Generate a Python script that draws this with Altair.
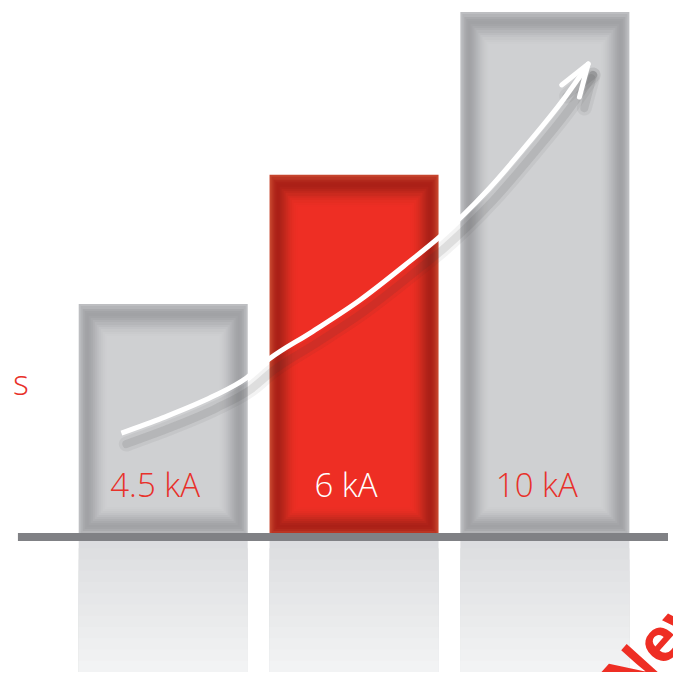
import altair as alt
import pandas as pd

# ---- data ----
categories = ["4.5 kA", "6 kA", "10 kA"]
bar_positions = [1, 2, 3]
bar_heights = [44.4, 69.0, 100.0]          # relative bar heights (10 kA = 100)
bar_kinds = ["grey", "red", "grey"]
label_colors = ["#e8312a", "#ffffff", "#e8312a"]

arrow_x = [0.781, 0.997, 1.256, 1.436, 1.555, 1.772, 2.030, 2.288, 2.453, 2.701, 2.917, 3.088, 3.217]
arrow_y = [19.8, 22.7, 26.7, 30.3, 33.9, 38.9, 45.1, 52.4, 57.3, 66.1, 75.2, 82.9, 89.5]
tip = (3.227, 90.1)
wings_x = [3.088, 3.181]
wings_y = [86.1, 83.8]

x_domain = [0.2129, 3.6452]
y_domain = [-25.71, 100.76]
baseline_start = 0.2387
label_y = 7.6
side_text = "s"
side_text_y = 27.0
new_text = "New"
new_x, new_y = 3.444, -32.0

bars = pd.DataFrame({"category": categories, "pos": bar_positions,
                     "height": bar_heights, "kind": bar_kinds,
                     "label_color": label_colors,
                     "zero": [0.0] * 3, "label_y": [label_y] * 3})
arrow = pd.DataFrame({"x": arrow_x, "y": arrow_y})
head = pd.DataFrame({"x": [tip[0]] * 2, "y": [tip[1]] * 2, "x2": wings_x, "y2": wings_y})
base = pd.DataFrame({"x": [baseline_start], "x2": [x_domain[1]], "y": [0.0]})
side = pd.DataFrame({"x": [x_domain[0]], "y": [side_text_y], "t": [side_text]})
new = pd.DataFrame({"x": [new_x], "y": [new_y], "t": [new_text]})

# shadow offset of the arrow (5 px right, 11 px down) in data units
sdx, sdy = 5 / 193.75, -11 / 5.25
arrow_sh = pd.DataFrame({"x": [v + sdx for v in arrow_x], "y": [v + sdy for v in arrow_y]})
head_sh = pd.DataFrame({"x": [tip[0] + sdx] * 2, "y": [tip[1] + sdy] * 2,
                        "x2": [v + sdx for v in wings_x], "y2": [v + sdy for v in wings_y]})

xs = alt.Scale(domain=x_domain, nice=False, zero=False)
ys = alt.Scale(domain=y_domain, nice=False, zero=False)
X = alt.X("pos:Q", scale=xs, axis=None)
BW = 169

layers = []

# reflection below the baseline: overlapping bands approximating a vertical gradient
refl_colors = ["#dcdde0", "#dedfe1", "#e0e1e3", "#e2e3e5", "#e4e5e7", "#e6e7e9",
               "#e8e9ea", "#eaebec", "#ecedee", "#eeeff0", "#f0f1f2", "#f2f3f4"]
n = len(refl_colors)
for i, c in enumerate(refl_colors):
    d = bars.assign(r_top=y_domain[0] * i / n, r_bot=y_domain[0])
    layers.append(
        alt.Chart(d).mark_bar(width=BW, color=c)
        .encode(x=X, y=alt.Y("r_top:Q", scale=ys, axis=None), y2="r_bot:Q")
    )

# bevelled bars: concentric rectangles (inset px, grey, red)
bevel = [
    (0, "#bdbec1", "#c6452e"),
    (2, "#b3b4b7", "#bb3523"),
    (4, "#a9aaad", "#b2291c"),
    (6, "#a3a4a7", "#ad2218"),
    (8, "#a1a2a5", "#ab2017"),
    (10, "#a4a5a8", "#af2219"),
    (12, "#a9aaad", "#b7251a"),
    (14, "#afb0b3", "#c0271c"),
    (16, "#b5b6b9", "#ca2a1e"),
    (18, "#bbbcbf", "#d42b20"),
    (20, "#c1c2c5", "#dd2c21"),
    (22, "#c6c7c9", "#e42d22"),
    (24, "#cacbcd", "#e92e23"),
    (26, "#cdced0", "#ec2e24"),
    (28, "#cfd0d2", "#ee2e24"),
]
for s, grey, red in bevel:
    layers.append(
        alt.Chart(bars).mark_bar(width=BW - 2 * s, yOffset=round(s * 1.15),
                                 y2Offset=-(s + 2 if s else 0))
        .encode(x=X, y=alt.Y("height:Q", scale=ys, axis=None), y2="zero:Q",
                color=alt.Color("kind:N", scale=alt.Scale(domain=["grey", "red"], range=[grey, red]),
                                legend=None))
    )

# labels inside bars
layers.append(
    alt.Chart(bars).mark_text(font="Open Sans", fontWeight=300, fontSize=33,
                              align="center", baseline="alphabetic", dx=-8)
    .encode(x=X, y=alt.Y("label_y:Q", scale=ys, axis=None), text="category:N",
            color=alt.Color("label_color:N", scale=None))
)

# baseline
layers.append(
    alt.Chart(base).mark_rule(color="#808185", strokeWidth=8)
    .encode(x=alt.X("x:Q", scale=xs, axis=None), x2="x2:Q", y=alt.Y("y:Q", scale=ys, axis=None))
)

AX = alt.X("x:Q", scale=xs, axis=None)
AY = alt.Y("y:Q", scale=ys, axis=None)

# arrow shadow
for w, op in [(15, 0.06), (8, 0.11)]:
    layers.append(alt.Chart(arrow_sh).mark_line(interpolate="monotone", color="#3a3a3a",
                                                strokeWidth=w, opacity=op, strokeCap="round")
                  .encode(x=AX, y=AY))
    layers.append(alt.Chart(head_sh).mark_rule(color="#3a3a3a", strokeWidth=w, opacity=op,
                                               strokeCap="round")
                  .encode(x=AX, y=AY, x2="x2:Q", y2="y2:Q"))

# white arrow
layers.append(alt.Chart(arrow).mark_line(interpolate="monotone", color="#ffffff", strokeWidth=5)
              .encode(x=AX, y=AY))
layers.append(alt.Chart(head).mark_rule(color="#ffffff", strokeWidth=5, strokeCap="round")
              .encode(x=AX, y=AY, x2="x2:Q", y2="y2:Q"))

# side texts
layers.append(alt.Chart(side).mark_text(font="Open Sans", fontWeight=300,
                                        fontSize=34, color="#e8312a", align="left",
                                        baseline="alphabetic")
              .encode(x=AX, y=AY, text="t:N"))
layers.append(alt.Chart(new).mark_text(font="Open Sans", fontWeight="bold",
                                       fontSize=60, color="#ee2e24", align="left",
                                       baseline="alphabetic", angle=312)
              .encode(x=AX, y=AY, text="t:N"))

chart = alt.layer(*layers).properties(
    width=665, height=664, autosize=alt.AutoSizeParams(type="none"), padding=0,
    background="#ffffff"
).resolve_scale(color="independent").configure_view(strokeWidth=0)

chart.save("out.html", embed_options={"renderer": "svg", "actions": False})
